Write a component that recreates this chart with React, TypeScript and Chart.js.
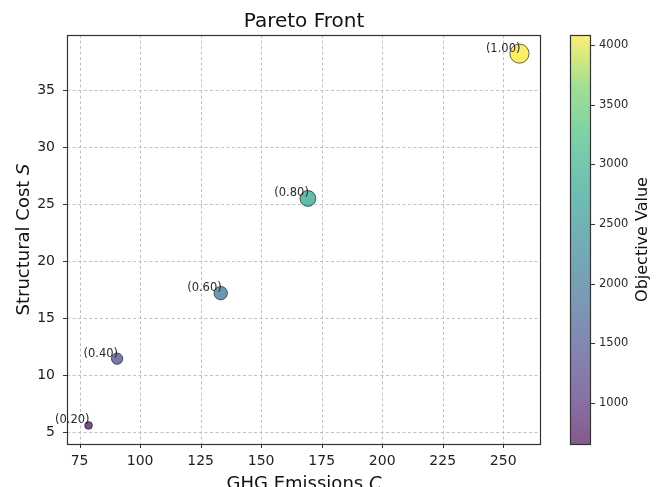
import React, { useEffect, useRef } from "react";
import { Chart, registerables } from "chart.js";

Chart.register(...registerables);

// ---- data ----
const pointLabels = ["(0.20)", "(0.40)", "(0.60)", "(0.80)", "(1.00)"];
const ghgEmissions = [78.7, 90.5, 133.3, 169.3, 256.7];
const structuralCost = [5.6, 11.45, 17.2, 25.5, 38.2];
const objectiveValues = [657, 1420, 2010, 2800, 4084];
const xTicks = [75, 100, 125, 150, 175, 200, 225, 250];
const yTicks = [5, 10, 15, 20, 25, 30, 35];
const cbTicks = [1000, 1500, 2000, 2500, 3000, 3500, 4000];

const FONT = "'DejaVu Sans', 'Liberation Sans', sans-serif";
const ALPHA = 0.65;

const VIRIDIS: number[][] = [
  [68, 1, 84],
  [72, 40, 120],
  [62, 73, 137],
  [49, 104, 142],
  [38, 130, 142],
  [31, 158, 137],
  [53, 183, 121],
  [110, 206, 88],
  [253, 231, 37],
];

function viridis(t: number, alpha: number): string {
  const tt = Math.max(0, Math.min(1, t)) * (VIRIDIS.length - 1);
  const i = Math.min(VIRIDIS.length - 2, Math.floor(tt));
  const f = tt - i;
  const a = VIRIDIS[i];
  const b = VIRIDIS[i + 1];
  const c = [0, 1, 2].map((k) => Math.round(a[k] + (b[k] - a[k]) * f));
  return `rgba(${c[0]},${c[1]},${c[2]},${alpha})`;
}

function pad(min: number, max: number) {
  const r = max - min;
  return { min: min - 0.05 * r, max: max + 0.05 * r };
}

const xRange = pad(Math.min(...ghgEmissions), Math.max(...ghgEmissions));
const yRange = pad(Math.min(...structuralCost), Math.max(...structuralCost));
const cMin = Math.min(...objectiveValues);
const cMax = Math.max(...objectiveValues);

function drawMixed(
  ctx: CanvasRenderingContext2D,
  normal: string,
  italic: string,
  size: number,
  cx: number,
  baseY: number
) {
  ctx.font = `${size}px ${FONT}`;
  const w1 = ctx.measureText(normal).width;
  ctx.font = `italic ${size}px ${FONT}`;
  const w2 = ctx.measureText(italic).width;
  const start = cx - (w1 + w2) / 2;
  ctx.textAlign = "left";
  ctx.textBaseline = "alphabetic";
  ctx.font = `${size}px ${FONT}`;
  ctx.fillText(normal, start, baseY);
  ctx.font = `italic ${size}px ${FONT}`;
  ctx.fillText(italic, start + w1, baseY);
}

const decorPlugin = {
  id: "decor",
  beforeDatasetsDraw(chart: any) {
    const ctx: CanvasRenderingContext2D = chart.ctx;
    const { left, right, top, bottom } = chart.chartArea;
    const xs = chart.scales.x;
    const ys = chart.scales.y;
    ctx.save();
    ctx.strokeStyle = "rgba(192,192,192,1)";
    ctx.lineWidth = 1;
    ctx.setLineDash([3, 2.5]);
    xTicks.forEach((v) => {
      const px = Math.round(xs.getPixelForValue(v)) + 0.5;
      ctx.beginPath();
      ctx.moveTo(px, top);
      ctx.lineTo(px, bottom);
      ctx.stroke();
    });
    yTicks.forEach((v) => {
      const py = Math.round(ys.getPixelForValue(v)) + 0.5;
      ctx.beginPath();
      ctx.moveTo(left, py);
      ctx.lineTo(right, py);
      ctx.stroke();
    });
    ctx.restore();
  },
  afterDatasetsDraw(chart: any) {
    const ctx: CanvasRenderingContext2D = chart.ctx;
    const { left, right, top, bottom } = chart.chartArea;
    const xs = chart.scales.x;
    const ys = chart.scales.y;
    const cs = chart.scales.cb;
    ctx.save();
    ctx.setLineDash([]);

    // point annotations
    const meta = chart.getDatasetMeta(0);
    ctx.fillStyle = "#2a2a2a";
    ctx.font = `11.5px ${FONT}`;
    ctx.textAlign = "right";
    ctx.textBaseline = "middle";
    meta.data.forEach((el: any, i: number) => {
      ctx.fillText(pointLabels[i], el.x + 1, el.y - 5);
    });

    // frame
    ctx.strokeStyle = "#333";
    ctx.lineWidth = 1.2;
    ctx.strokeRect(left + 0.5, top + 0.5, right - left - 1, bottom - top);

    // tick marks
    ctx.lineWidth = 1;
    ctx.beginPath();
    xTicks.forEach((v) => {
      const px = Math.round(xs.getPixelForValue(v)) + 0.5;
      ctx.moveTo(px, bottom);
      ctx.lineTo(px, bottom + 4);
    });
    yTicks.forEach((v) => {
      const py = Math.round(ys.getPixelForValue(v)) + 0.5;
      ctx.moveTo(left, py);
      ctx.lineTo(left - 4, py);
    });
    ctx.stroke();

    // colorbar
    const cbL = cs.left + 29;
    const cbR = cs.left + 50;
    const cbT = cs.top;
    const cbB = cs.bottom;
    const grad = ctx.createLinearGradient(0, cbB, 0, cbT);
    for (let k = 0; k <= 40; k++) {
      grad.addColorStop(k / 40, viridis(k / 40, ALPHA));
    }
    ctx.fillStyle = grad;
    ctx.fillRect(cbL, cbT, cbR - cbL, cbB - cbT);
    ctx.strokeStyle = "#333";
    ctx.lineWidth = 1.2;
    ctx.strokeRect(cbL + 0.5, cbT + 0.5, cbR - cbL - 1, cbB - cbT);
    ctx.lineWidth = 1;
    ctx.beginPath();
    cbTicks.forEach((v) => {
      const py = Math.round(cs.getPixelForValue(v)) + 0.5;
      ctx.moveTo(cbR, py);
      ctx.lineTo(cbR + 4, py);
    });
    ctx.stroke();
    ctx.fillStyle = "#2a2a2a";
    ctx.font = `11.5px ${FONT}`;
    ctx.textAlign = "left";
    ctx.textBaseline = "middle";
    cbTicks.forEach((v) => {
      ctx.fillText(String(v), cbR + 8, cs.getPixelForValue(v));
    });

    // titles
    ctx.fillStyle = "#111";
    ctx.font = `20px ${FONT}`;
    ctx.textAlign = "center";
    ctx.textBaseline = "alphabetic";
    ctx.fillText("Pareto Front", (left + right) / 2, 27);

    drawMixed(ctx, "GHG Emissions ", "C", 18, (left + right) / 2, 489);

    ctx.save();
    ctx.translate(28.5, (top + bottom) / 2);
    ctx.rotate(-Math.PI / 2);
    drawMixed(ctx, "Structural Cost ", "S", 18, 0, 0);
    ctx.restore();

    ctx.save();
    ctx.translate(647, (top + bottom) / 2);
    ctx.rotate(-Math.PI / 2);
    ctx.font = `16px ${FONT}`;
    ctx.textAlign = "center";
    ctx.textBaseline = "alphabetic";
    ctx.fillText("Objective Value", 0, 0);
    ctx.restore();

    ctx.restore();
  },
};

export default function App() {
  const ref = useRef<HTMLCanvasElement | null>(null);

  useEffect(() => {
    if (!ref.current) return;
    const chart = new Chart(ref.current, {
      type: "scatter",
      data: {
        datasets: [
          {
            data: ghgEmissions.map((x, i) => ({ x, y: structuralCost[i] })),
            pointRadius: (c: any) =>
              0.15 * Math.sqrt(objectiveValues[c.dataIndex] ?? cMin),
            pointBackgroundColor: (c: any) =>
              viridis(((objectiveValues[c.dataIndex] ?? cMin) - cMin) / (cMax - cMin), 0.7),
            pointBorderColor: "rgba(0,0,0,0.6)",
            pointBorderWidth: 1,
            clip: false as any,
          },
        ],
      },
      options: {
        responsive: false,
        animation: false,
        devicePixelRatio: 1,
        events: [],
        layout: { autoPadding: false, padding: { top: 35, left: 0, right: 0, bottom: 0 } },
        plugins: {
          legend: { display: false },
          title: { display: false },
          tooltip: { enabled: false },
        },
        scales: {
          x: {
            type: "linear",
            position: "bottom",
            min: xRange.min,
            max: xRange.max,
            afterBuildTicks: (s: any) => {
              s.ticks = xTicks.map((v) => ({ value: v }));
            },
            afterFit: (s: any) => {
              s.height = 43;
            },
            grid: { display: false, drawTicks: false },
            border: { display: false },
            ticks: {
              padding: 9,
              maxRotation: 0,
              autoSkip: false,
              color: "#1e1e1e",
              font: { family: FONT, size: 14 },
            },
          },
          y: {
            type: "linear",
            position: "left",
            min: yRange.min,
            max: yRange.max,
            afterBuildTicks: (s: any) => {
              s.ticks = yTicks.map((v) => ({ value: v }));
            },
            afterFit: (s: any) => {
              s.width = 67;
            },
            grid: { display: false, drawTicks: false },
            border: { display: false },
            ticks: {
              padding: 12,
              autoSkip: false,
              color: "#1e1e1e",
              font: { family: FONT, size: 14 },
            },
          },
          cb: {
            type: "linear",
            position: "right",
            min: cMin,
            max: cMax,
            afterBuildTicks: (s: any) => {
              s.ticks = cbTicks.map((v) => ({ value: v }));
            },
            afterFit: (s: any) => {
              s.width = 120;
            },
            grid: { display: false, drawTicks: false },
            border: { display: false },
            ticks: { display: false },
          },
        },
      } as any,
      plugins: [decorPlugin],
    });
    return () => chart.destroy();
  }, []);

  return (
    <div style={{ position: "absolute", left: 0, top: 0, width: 661, height: 487, background: "#fff" }}>
      <canvas ref={ref} width={661} height={487} style={{ display: "block" }} />
    </div>
  );
}
